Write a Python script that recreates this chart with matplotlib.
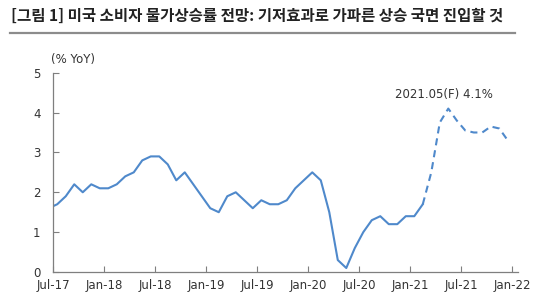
import numpy as np
import matplotlib
matplotlib.use('Agg')
import matplotlib.pyplot as plt
from matplotlib.lines import Line2D

plt.rcParams['font.family'] = ['DejaVu Sans']

# monthly US CPI YoY (%), Jun-17 .. Feb-21 actual
actual = [1.6, 1.7, 1.9, 2.2, 2.0, 2.2, 2.1,
          2.1, 2.2, 2.4, 2.5, 2.8, 2.9, 2.9, 2.7, 2.3, 2.5, 2.2, 1.9,
          1.6, 1.5, 1.9, 2.0, 1.8, 1.6, 1.8, 1.7, 1.7, 1.8, 2.1, 2.3,
          2.5, 2.3, 1.5, 0.3, 0.1, 0.6, 1.0, 1.3, 1.4, 1.2, 1.2, 1.4,
          1.4, 1.7]
# forecast Feb-21 .. Dec-21
forecast = [1.7, 2.5, 3.75, 4.1, 3.8, 3.55, 3.5, 3.5, 3.65, 3.6, 3.3]
tick_labels = ['Jul-17', 'Jan-18', 'Jul-18', 'Jan-19', 'Jul-19',
               'Jan-20', 'Jul-20', 'Jan-21', 'Jul-21', 'Jan-22']

# months counted from Jul-17, points sit mid-month
x_act = np.arange(len(actual)) - 1 + 0.5
x_fc = np.arange(len(forecast)) + x_act[-1]

fig = plt.figure(figsize=(5.47, 2.97), dpi=100)
ax = fig.add_axes([53/547, 1-272/297, 465/547, 199.3/297])

blue = '#4f89cb'
ax.plot(x_act, actual, color=blue, lw=1.5)
ax.plot(x_fc, forecast, color=blue, lw=1.5, ls=(0, (3.4, 2.4)))

ax.set_xlim(0, 54.7)
ax.set_ylim(0, 5)
ax.set_xticks(np.arange(len(tick_labels)) * 6)
ax.set_xticklabels(tick_labels)
ax.set_yticks(range(0, 6))

for s in ['top', 'right']:
    ax.spines[s].set_visible(False)
for s in ['left', 'bottom']:
    ax.spines[s].set_color('#7f7f7f')
    ax.spines[s].set_linewidth(0.9)
ax.tick_params(direction='in', length=4, color='#7f7f7f', width=0.8,
               labelsize=8.5, labelcolor='#333333')
ax.tick_params(axis='y', pad=9)
ax.tick_params(axis='x', pad=5)

ax.text(46, 4.46, '2021.05(F) 4.1%', ha='center', va='center',
        fontsize=8.5, color='#333333')
fig.text(51/547, 1-60/297, '(% YoY)', ha='left', va='center',
         fontsize=8.5, color='#333333')

fig.text(11/547, 1-16/297,
         '[그림 1] 미국 소비자 물가상승률 전망: 기저효과로 가파른 상승 국면 진입할 것',
         ha='left', va='center', fontsize=11.2, fontweight='bold', color='#222222',
         family=['Noto Sans CJK KR', 'DejaVu Sans'])
fig.add_artist(Line2D([10/547, 515/547], [1-33/297, 1-33/297],
                      color='#8c8c8c', lw=1.6, transform=fig.transFigure))

fig.savefig('out.png', dpi=100)
